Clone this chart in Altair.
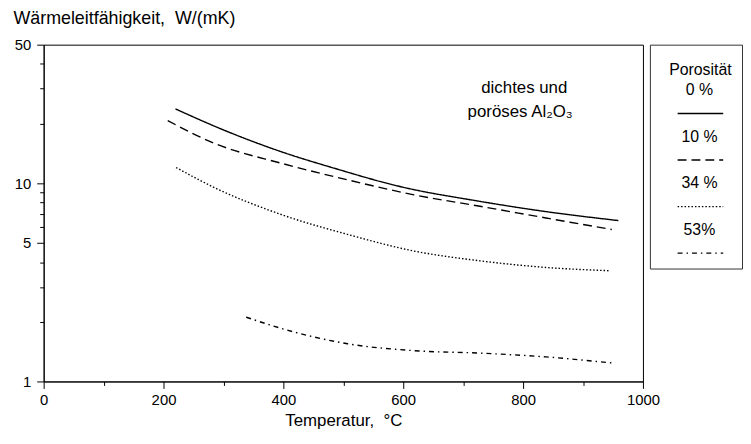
import altair as alt
import pandas as pd

# ---- data ----
series_names = ["0 %", "10 %", "34 %", "53%"]

t_0 = [220, 309, 397, 485, 596, 728, 827, 959]
k_0 = [23.7, 18.1, 14.4, 11.9, 9.6, 8.1, 7.27, 6.48]

t_10 = [207, 287, 397, 507, 618, 728, 838, 948]
k_10 = [20.7, 15.8, 12.6, 10.4, 8.74, 7.65, 6.68, 5.84]

t_34 = [221, 287, 397, 507, 618, 728, 838, 943]
k_34 = [12.0, 9.44, 6.94, 5.52, 4.55, 4.06, 3.76, 3.62]

t_53 = [338, 397, 507, 618, 728, 838, 948]
k_53 = [2.11, 1.85, 1.55, 1.43, 1.39, 1.33, 1.24]

x_ticks = list(range(0, 1001, 100))
x_labels = [0, 200, 400, 600, 800, 1000]
y_ticks = [1, 2, 3, 4, 5, 6, 7, 8, 9, 10, 20, 30, 40, 50]
y_labels = [1, 5, 10, 50]

y_title = "Wärmeleitfähigkeit,\u00a0 W/(mK)"
x_title = "Temperatur,\u00a0 °C"
legend_title = "Porosität"
note_lines = ["dichtes und", "poröses Al₂O₃"]
note_t = [802, 795]
note_k = [30.2, 22.9]

dash_styles = [[1, 0], [9, 5], [1.5, 2], [5, 4, 1.5, 4]]

FONT = "Liberation Sans"
FS = 15      # tick labels
FS_T = 17    # axis title / annotation
FS_TOP = 18  # top title
FS_L = 16    # legend text

rows = []
for name, ts, ks in [("0 %", t_0, k_0), ("10 %", t_10, k_10),
                     ("34 %", t_34, k_34), ("53%", t_53, k_53)]:
    for t, k in zip(ts, ks):
        rows.append({"series": name, "T": t, "k": k})
df = pd.DataFrame(rows)

dash_scale = alt.Scale(domain=series_names, range=dash_styles)

x_enc = alt.X(
    "T:Q",
    scale=alt.Scale(domain=[0, 1000], nice=False),
    axis=alt.Axis(
        values=x_ticks,
        format="d",
        labelExpr="indexof(%s, datum.value) >= 0 ? datum.label : ''" % x_labels,
        title=x_title,
        titleFontSize=FS_T,
        grid=False,
        tickSize={"condition": {"test": "datum.value % 200 == 0", "value": 7}, "value": 4},
        labelPadding=4,
        titlePadding=5,
        labelOverlap=False,
        labelFlush=False,
    ),
)
y_enc = alt.Y(
    "k:Q",
    scale=alt.Scale(type="log", domain=[1, 50], nice=False),
    axis=alt.Axis(
        values=y_ticks,
        format="d",
        labelExpr="indexof(%s, datum.value) >= 0 ? datum.label : ''" % y_labels,
        title=None,
        grid=False,
        tickSize={"condition": {"test": "indexof(%s, datum.value) >= 0" % y_labels, "value": 7}, "value": 4},
        labelPadding=6,
        labelOverlap=False,
        labelFlush=False,
        minExtent=30,
        maxExtent=30,
    ),
)

lines = alt.Chart(df).mark_line(color="black", strokeWidth=1.4, interpolate="monotone").encode(
    x=x_enc,
    y=y_enc,
    strokeDash=alt.StrokeDash("series:N", scale=dash_scale, legend=None),
    detail="series:N",
)

note_df = pd.DataFrame({"text": note_lines, "T": note_t, "k": note_k})
note = alt.Chart(note_df).mark_text(
    font=FONT, fontSize=FS_T, color="black", align="center", baseline="middle"
).encode(x="T:Q", y="k:Q", text="text:N")

main = alt.layer(lines, note).properties(
    width=605, height=340, view=alt.ViewBackground(stroke="black", strokeWidth=1)
)

# ---- custom legend panel ----
leg_df = pd.DataFrame({"series": series_names, "row": [0, 1, 2, 3]})
leg_y_scale = alt.Scale(domain=[-0.979, 3.830], reverse=True, nice=False, zero=False)

leg_text = alt.Chart(leg_df).mark_text(
    font=FONT, fontSize=FS_L, color="black", align="center", baseline="middle"
).encode(
    x=alt.value(50),
    y=alt.Y("row:Q", scale=leg_y_scale, axis=None),
    text="series:N",
)
leg_lines = alt.Chart(leg_df).transform_calculate(ly="datum.row + 0.5").mark_rule(
    color="black", strokeWidth=1.4
).encode(
    x=alt.value(28),
    x2=alt.value(74),
    y=alt.Y("ly:Q", scale=leg_y_scale, axis=None),
    strokeDash=alt.StrokeDash("series:N", scale=dash_scale, legend=None),
)
leg_head = alt.Chart(pd.DataFrame({"t": [legend_title], "row": [-0.43]})).mark_text(
    font=FONT, fontSize=FS_L, color="black", align="center", baseline="middle"
).encode(
    x=alt.value(51),
    y=alt.Y("row:Q", scale=leg_y_scale, axis=None),
    text="t:N",
)
legend = alt.layer(leg_head, leg_text, leg_lines).properties(
    width=93, height=226, view=alt.ViewBackground(stroke="#333333", strokeWidth=1)
)

chart = alt.hconcat(main, legend, spacing=7, bounds="flush").properties(
    title=alt.TitleParams(
        text=y_title, anchor="start", fontSize=FS_TOP, fontWeight="normal",
        font=FONT, color="black", offset=9,
    ),
    padding={"left": 5, "top": 0, "right": 0, "bottom": 0},
).configure_axis(
    domainColor="black", tickColor="black", labelColor="black", titleColor="black",
    labelFont=FONT, titleFont=FONT, labelFontSize=FS,
    titleFontWeight="normal", domainWidth=1, tickWidth=1,
).configure_view(stroke="black")

chart.save("out.html", embed_options={"renderer": "svg", "actions": False})
